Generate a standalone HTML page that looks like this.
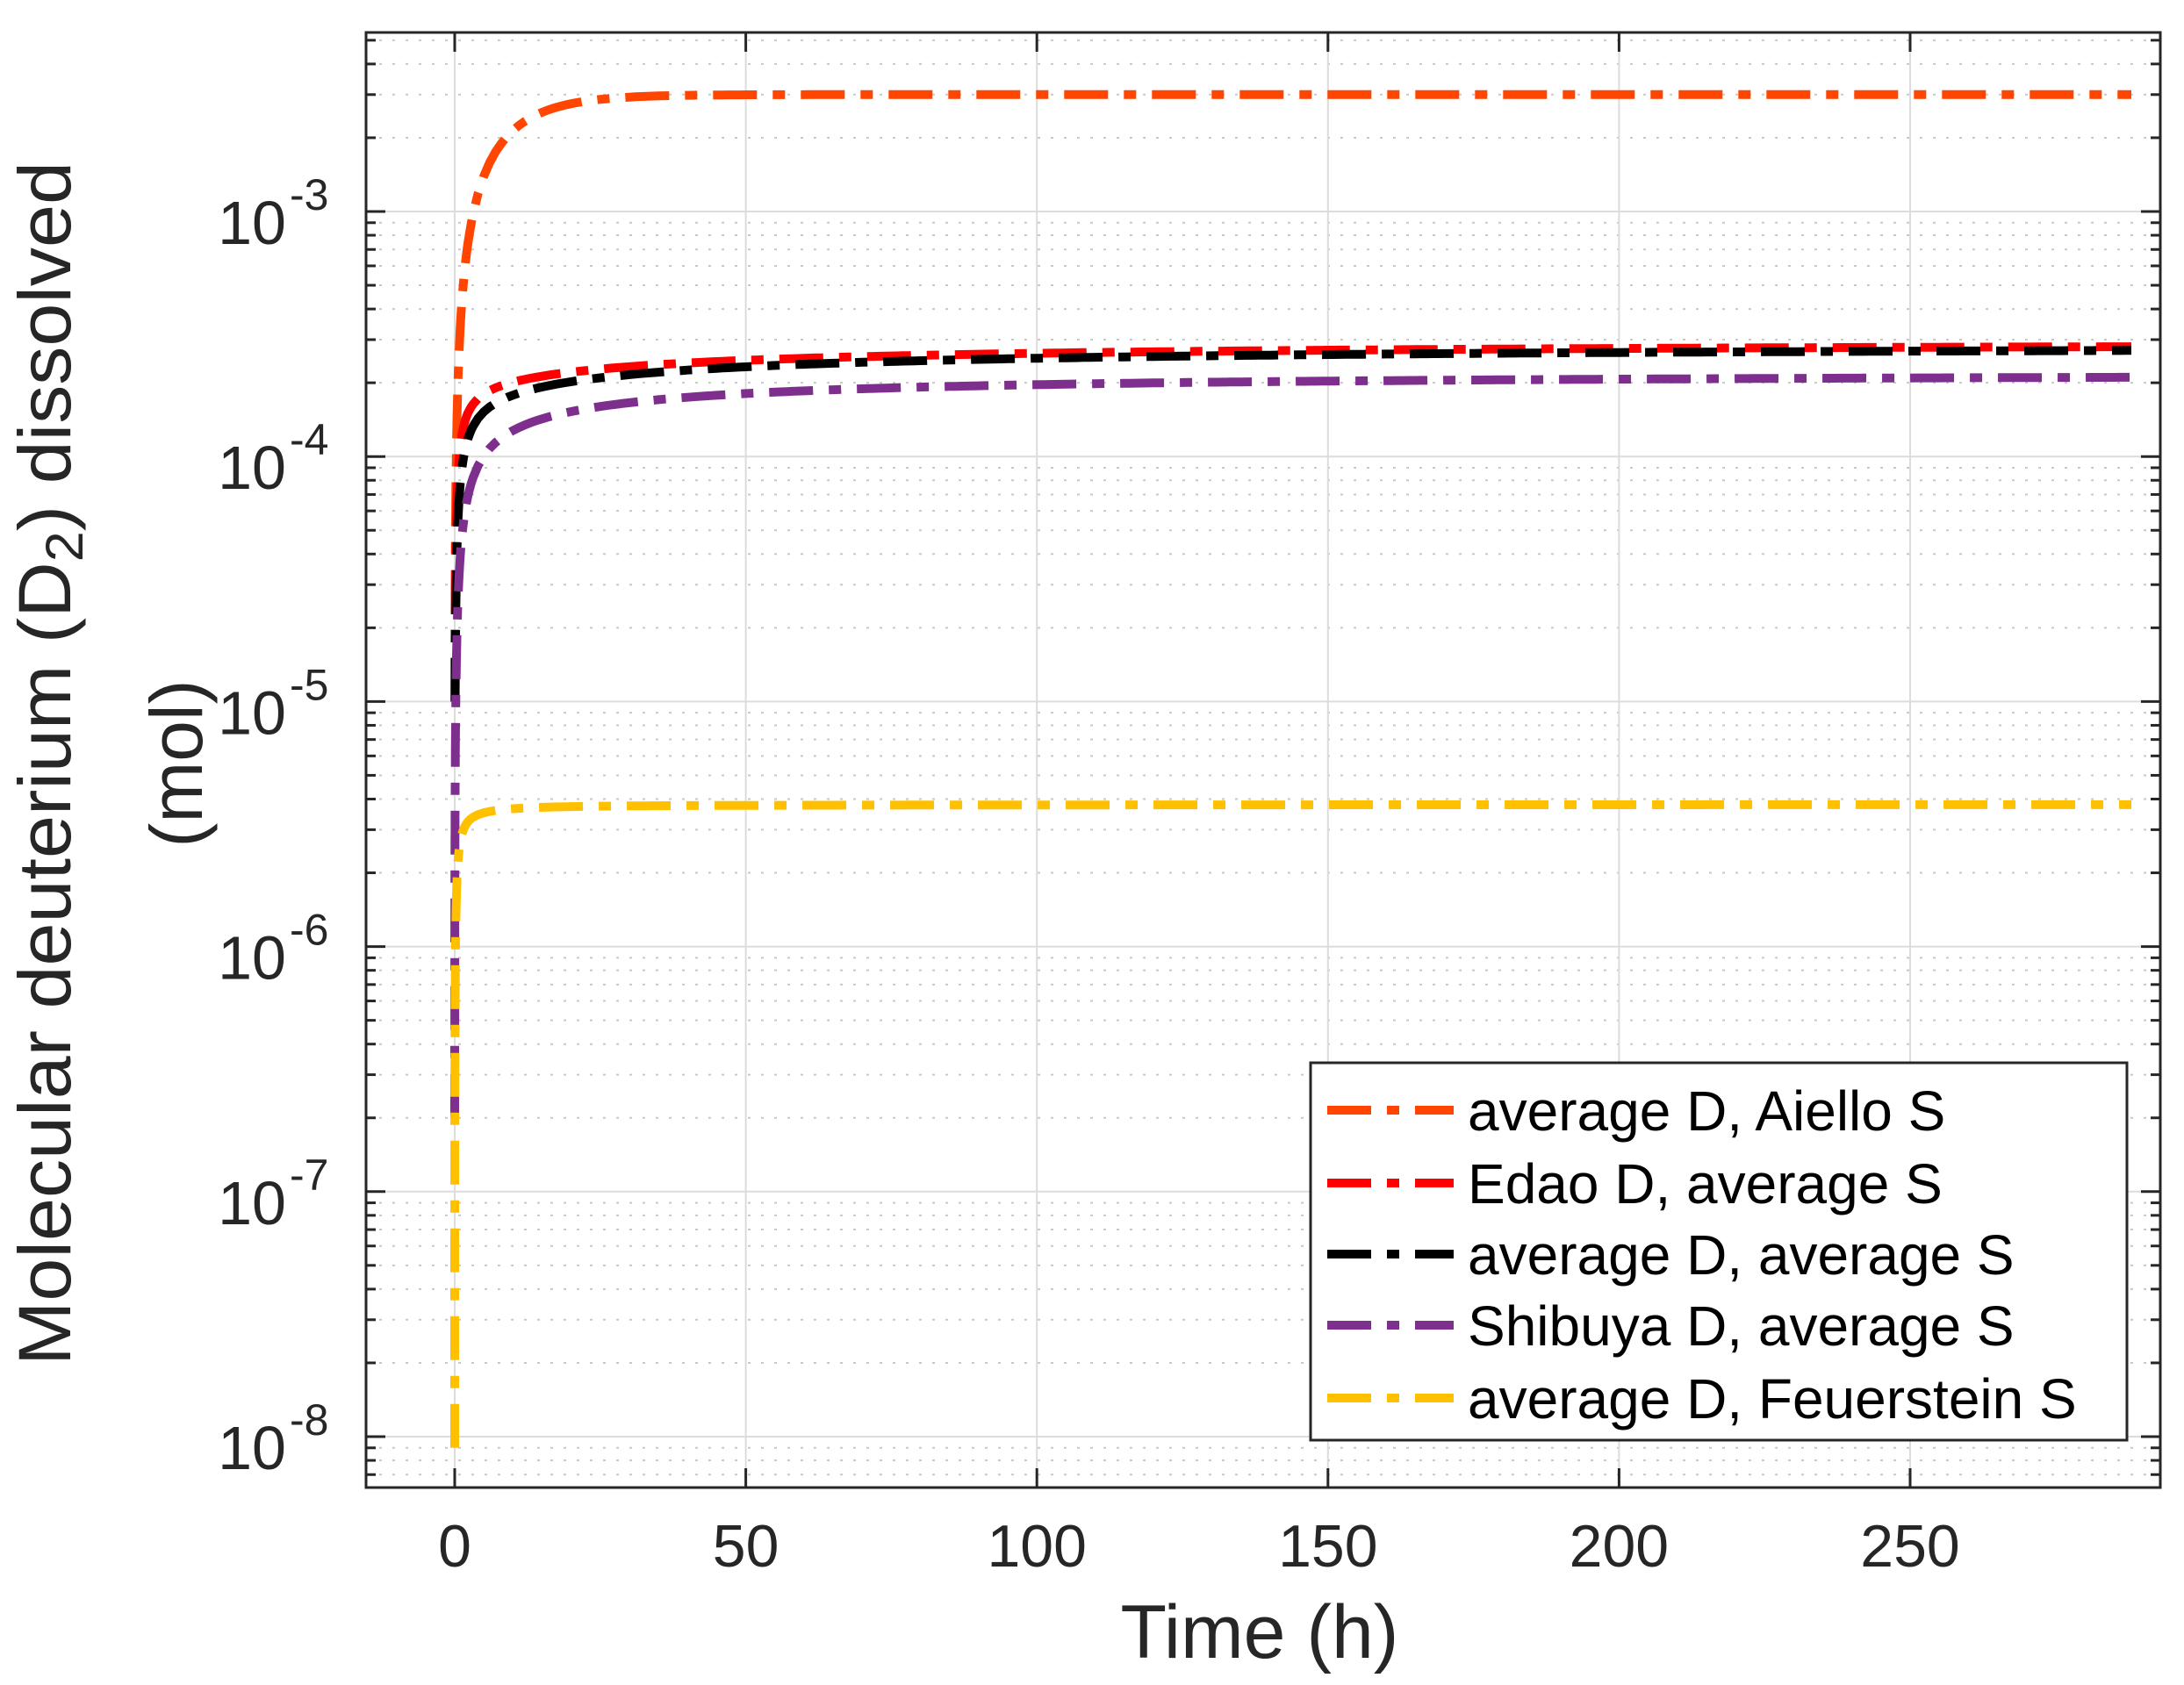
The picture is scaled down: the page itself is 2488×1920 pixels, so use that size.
<!DOCTYPE html>
<html><head><meta charset="utf-8"><style>
html,body{margin:0;padding:0;background:#fff;}
svg{display:block;font-family:"Liberation Sans",Arial,sans-serif;}
</style></head><body>
<svg id="s" width="2488" height="1920" viewBox="0 0 2488 1920" xmlns="http://www.w3.org/2000/svg">
<rect width="2488" height="1920" fill="#fff"/>
<g id="grid"></g>
<g id="series" fill="none" stroke-width="10" stroke-dasharray="50 18 14 18"></g>
<g id="axes"></g>
<g id="legend"></g>
<g fill="#262626">
<text x="1435" y="1889" font-size="86" text-anchor="middle">Time (h)</text>
<text transform="translate(80,870) rotate(-90)" font-size="84" text-anchor="middle" textLength="1372" lengthAdjust="spacingAndGlyphs">Molecular deuterium (D<tspan font-size="60" dy="14">2</tspan><tspan dy="-14">) dissolved</tspan></text>
<text transform="translate(230,870) rotate(-90)" font-size="84" text-anchor="middle">(mol)</text>
</g>
</svg>
<script>
var NS="http://www.w3.org/2000/svg";
var L=417,R=2461,T=37,B=1695;
var X0=518,PX=6.632;
var Y3=241,DEC=279.2;
function xp(t){return X0+t*PX;}
function yp(v){return Y3+(-3-Math.log10(v))*DEC;}
function el(p,tag,a,txt){var e=document.createElementNS(NS,tag);for(var k in a)e.setAttribute(k,a[k]);if(txt!==undefined)e.textContent=txt;p.appendChild(e);return e;}
var g=document.getElementById('grid'),ax=document.getElementById('axes');
for(var d=-9;d<=-2;d++){for(var m=1;m<=9;m++){var v=m*Math.pow(10,d);var y=yp(v);if(y<T||y>B)continue;
 if(m==1){el(g,'line',{x1:L,x2:R,y1:y,y2:y,stroke:'#dcdcdc','stroke-width':2});
  el(ax,'line',{x1:L,x2:L+22,y1:y,y2:y,stroke:'#262626','stroke-width':3});
  el(ax,'line',{x1:R,x2:R-22,y1:y,y2:y,stroke:'#262626','stroke-width':3});
  el(ax,'text',{x:326,y:y+37,'font-size':70,'text-anchor':'end',fill:'#262626'},'10');
  el(ax,'text',{x:330,y:y-2,'font-size':50,fill:'#262626'},'-'+(-d));
 } else {el(g,'line',{x1:L,x2:R,y1:y,y2:y,stroke:'#c8c8c8','stroke-width':2,'stroke-dasharray':'3 12'});
  el(ax,'line',{x1:L,x2:L+11,y1:y,y2:y,stroke:'#262626','stroke-width':3});
  el(ax,'line',{x1:R,x2:R-11,y1:y,y2:y,stroke:'#262626','stroke-width':3});}
}}
for(var t=0;t<=250;t+=50){var x=xp(t);
 el(g,'line',{x1:x,x2:x,y1:T,y2:B,stroke:'#dcdcdc','stroke-width':2});
 el(ax,'line',{x1:x,x2:x,y1:B,y2:B-22,stroke:'#262626','stroke-width':3});
 el(ax,'line',{x1:x,x2:x,y1:T,y2:T+22,stroke:'#262626','stroke-width':3});
 el(ax,'text',{x:x,y:1785,'font-size':68,'text-anchor':'middle',fill:'#262626'},''+t);}
el(ax,'rect',{x:L,y:T,width:R-L,height:B-T,fill:'none',stroke:'#262626','stroke-width':3});
var S=[
 ['#FF4500',function(t){return 3.0e-3*(1-Math.exp(-t/8));},1e-5],
 ['#FF0000',function(t){return 2.93e-4*(0.67*t/(t+0.8)+0.33*t/(t+40));},1e-5],
 ['#000000',function(t){return 2.85e-4*(0.62*t/(t+1.3)+0.38*t/(t+40));},1e-5],
 ['#7E2F8E',function(t){return 2.2e-4*(0.6*t/(t+2.5)+0.4*t/(t+30));},2e-7],
 ['#FFC000',function(t){return 3.8e-6*t/(t+0.4);},9e-9]];
var sg=document.getElementById('series');
S.forEach(function(s){var pts=[];var ts=[0];for(var i=-5;i<=0.5;i+=0.05)ts.push(Math.pow(10,i));for(var t=4;t<=288;t+=1)ts.push(t);
 ts.forEach(function(t){var v=Math.max(s[1](t),s[2]);pts.push(xp(t).toFixed(1)+','+yp(v).toFixed(1));});
 el(sg,'polyline',{points:pts.join(' '),stroke:s[0]});});
var lg=document.getElementById('legend');
el(lg,'rect',{x:1493,y:1211,width:930,height:430,fill:'#fff',stroke:'#262626','stroke-width':3});
var names=['average D, Aiello S','Edao D, average S','average D, average S','Shibuya D, average S','average D, Feuerstein S'];
var ly=[1265,1348,1429,1510,1593];
names.forEach(function(n,i){el(lg,'line',{x1:1512,x2:1656,y1:ly[i],y2:ly[i],stroke:S[i][0],'stroke-width':10,'stroke-dasharray':'50 18 14 18'});
 el(lg,'text',{x:1672,y:ly[i]+23,'font-size':64,fill:'#000'},n);});
</script>
</body></html>
